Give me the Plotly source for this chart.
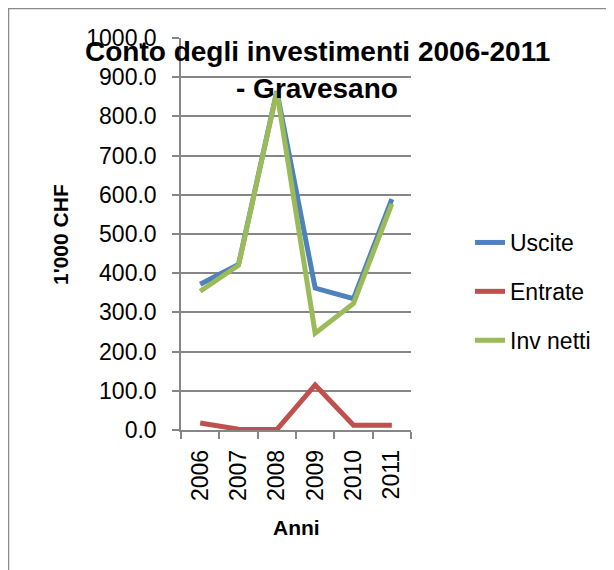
import plotly.graph_objects as go

years = ["2006", "2007", "2008", "2009", "2010", "2011"]
uscite = [372, 422, 864, 362, 335, 589]
entrate = [18, 2, 1, 115, 12, 12]
inv_netti = [354, 420, 863, 247, 323, 577]

series_names = ["Uscite", "Entrate", "Inv netti"]
series_colors = ["#4F81BD", "#C0504D", "#9BBB59"]

OFF = 8  # page body margin
W, H = 614 - OFF, 570 - OFF
L, R, T, B = 181 - OFF, 411 - OFF, 38 - OFF, 430 - OFF  # plot area pixel box (layout coords)


def px(x):
    return (x - OFF - L) / (R - L)


def py(y):
    return (B - (y - OFF)) / (B - T)


FONT = "Liberation Sans, Arial, sans-serif"
GRID = "#868686"

fig = go.Figure()
for name, vals, col in zip(series_names, [uscite, entrate, inv_netti], series_colors):
    fig.add_trace(go.Scatter(
        x=years, y=vals, name=name, mode="lines",
        line=dict(color=col, width=5),
        legendgroup=name,
    ))

fig.update_layout(
    width=W, height=H,
    margin=dict(l=L, r=W - R, t=T, b=H - B, pad=0),
    paper_bgcolor="white", plot_bgcolor="white",
    font=dict(family=FONT, size=23, color="black"),
    showlegend=True,
    legend=dict(
        x=px(470), y=py(221), xanchor="left", yanchor="top",
        font=dict(size=23), tracegroupgap=16, bgcolor="rgba(0,0,0,0)",
    ),
    xaxis=dict(
        type="category", range=[-0.5, 5.5],
        showgrid=False, showline=True, linecolor=GRID, linewidth=1.5,
        ticks="outside", tickson="boundaries", ticklen=7, tickcolor=GRID, tickwidth=1.5,
        tickangle=-90, tickfont=dict(size=23), ticklabelstandoff=9,
    ),
    yaxis=dict(
        range=[0, 1000], dtick=100, tickformat=".1f",
        showgrid=True, gridcolor=GRID, gridwidth=1.5,
        showline=True, linecolor=GRID, linewidth=1.5,
        ticks="outside", ticklen=7, tickcolor=GRID, tickwidth=1.5,
        tickfont=dict(size=23), ticklabelstandoff=11, zeroline=False,
    ),
    shapes=[dict(
        type="rect", xref="paper", yref="paper",
        x0=px(8.5), y0=py(700), x1=px(700), y1=py(8.5),
        line=dict(color="#8a8a8a", width=1.5), fillcolor="rgba(0,0,0,0)", layer="below",
    )],
    annotations=[
        dict(text="<b>Conto degli investimenti 2006-2011</b>", x=px(317), y=py(52),
             xref="paper", yref="paper", xanchor="center", yanchor="middle",
             showarrow=False, font=dict(size=28)),
        dict(text="<b>- Gravesano</b>", x=px(317), y=py(88),
             xref="paper", yref="paper", xanchor="center", yanchor="middle",
             showarrow=False, font=dict(size=28)),
        dict(text="<b>1'000 CHF</b>", x=px(60), y=py(235), textangle=-90,
             xref="paper", yref="paper", xanchor="center", yanchor="middle",
             showarrow=False, font=dict(size=21)),
        dict(text="<b>Anni</b>", x=px(296), y=py(527),
             xref="paper", yref="paper", xanchor="center", yanchor="middle",
             showarrow=False, font=dict(size=21)),
    ],
)

fig.write_html("out.html")
